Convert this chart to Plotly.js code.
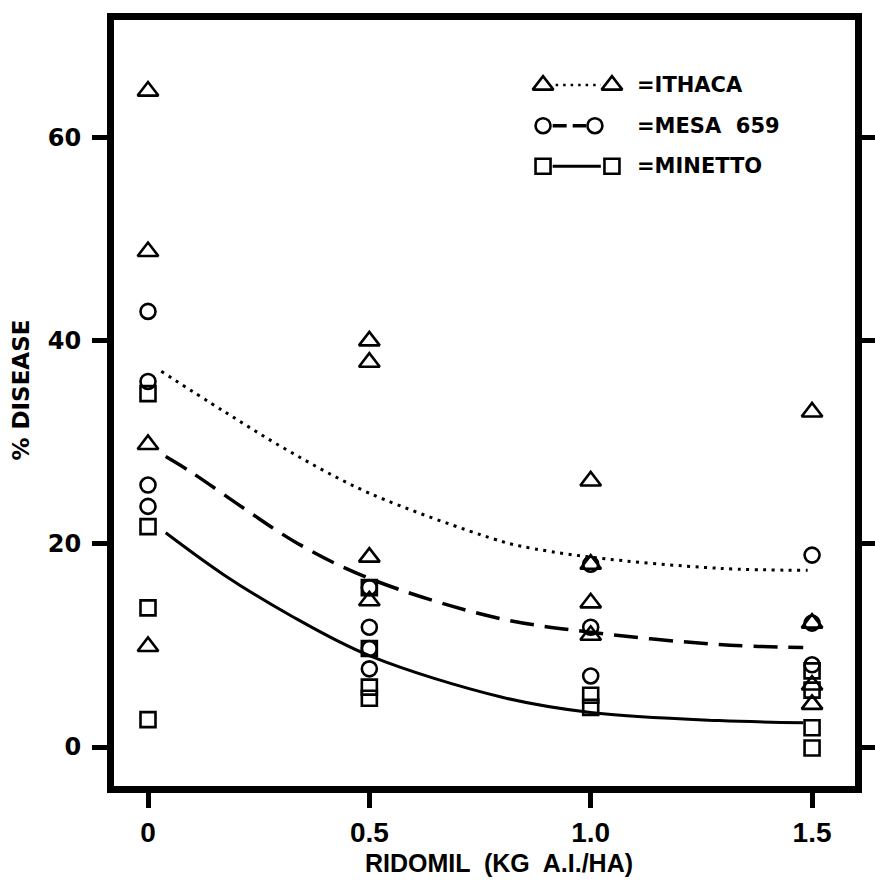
<!DOCTYPE html>
<html>
<head>
<meta charset="utf-8">
<script src="https://cdn.plot.ly/plotly-3.0.1.min.js"></script>
<style>
  html, body { margin: 0; padding: 0; background: #ffffff; }
  #chart { width: 875px; height: 883px; }
</style>
</head>
<body>
<div id="chart"></div>
<script>
// ---- data ----
const doseTicks = [0, 0.5, 1.0, 1.5];
const doseTickText = ['0', '0.5', '1.0', '1.5'];
const diseaseTicks = [0, 20, 40, 60];

const ithacaDose = [0, 0, 0, 0, 0.5, 0.5, 0.5, 0.5, 1, 1, 1, 1, 1.5, 1.5, 1.5, 1.5];
const ithacaDisease = [64.6, 48.8, 29.8, 9.9, 40.0, 37.9, 18.7, 14.4, 26.2, 18.0, 14.2, 11.0, 33.0, 12.2, 6.1, 4.2];

const mesaDose = [0, 0, 0, 0, 0.5, 0.5, 0.5, 0.5, 1, 1, 1, 1.5, 1.5, 1.5];
const mesaDisease = [42.9, 36.0, 25.8, 23.7, 15.7, 11.8, 9.7, 7.7, 18.0, 11.8, 7.0, 18.9, 12.2, 8.1];

const minettoDose = [0, 0, 0, 0, 0.5, 0.5, 0.5, 0.5, 1, 1, 1.5, 1.5, 1.5, 1.5];
const minettoDisease = [34.8, 21.7, 13.7, 2.7, 15.7, 9.7, 5.9, 4.8, 5.1, 3.9, 7.5, 5.6, 1.9, -0.1];

// fitted curves
const ithacaFitDose = [0.03, 0.17, 0.32, 0.5, 0.78, 0.84, 1.0, 1.29, 1.49];
const ithacaFitDisease = [37.0, 33.1, 29.1, 25.0, 20.5, 19.8, 18.7, 17.6, 17.4];

const mesaFitDose = [0.04, 0.10, 0.22, 0.34, 0.5, 0.78, 1.0, 1.29, 1.48];
const mesaFitDisease = [28.6, 27.0, 23.4, 20.0, 16.6, 12.8, 11.3, 10.1, 9.8];

const minettoFitDose = [0.04, 0.17, 0.32, 0.5, 0.80, 1.0, 1.29, 1.48];
const minettoFitDisease = [21.1, 17.0, 13.0, 9.0, 4.9, 3.4, 2.6, 2.4];

const seriesNames = ['=ITHACA', '=MESA  659', '=MINETTO'];

// ---- styling ----
const black = '#000000';
const mk = (symbol, size) => ({ symbol: symbol, size: size, color: black, line: { color: black, width: 2.6 } });
const triMk = mk('triangle-up-open', 18);
const cirMk = mk('circle-open', 15);
const sqrMk = mk('square-open', 15);
const dotLine = { color: black, width: 3, dash: '3px,5.5px', shape: 'spline' };
const dashLine = { color: black, width: 3.5, dash: '24px,11px', shape: 'spline' };
const solidLine = { color: black, width: 3, shape: 'spline' };

const traces = [
  { x: ithacaFitDose, y: ithacaFitDisease, mode: 'lines', line: dotLine, hoverinfo: 'skip' },
  { x: mesaFitDose, y: mesaFitDisease, mode: 'lines', line: dashLine, hoverinfo: 'skip' },
  { x: minettoFitDose, y: minettoFitDisease, mode: 'lines', line: solidLine, hoverinfo: 'skip' },
  { x: ithacaDose, y: ithacaDisease, mode: 'markers', marker: triMk, name: 'ITHACA' },
  { x: mesaDose, y: mesaDisease, mode: 'markers', marker: cirMk, name: 'MESA 659' },
  { x: minettoDose, y: minettoDisease, mode: 'markers', marker: sqrMk, name: 'MINETTO' }
];

// ---- hand-drawn style key, placed on an overlay axis spanning the plot (0..1) ----
const keyRows = [
  { y: 0.915, x0: 0.579, x1: 0.672, l0: 0.596, l1: 0.657, marker: triMk, line: { color: black, width: 2.5, dash: '2.5px,5px' } },
  { y: 0.862, x0: 0.579, x1: 0.649, l0: 0.592, l1: 0.637, marker: cirMk, line: { color: black, width: 3.5, dash: '14px,6px' } },
  { y: 0.809, x0: 0.579, x1: 0.672, l0: 0.592, l1: 0.657, marker: sqrMk, line: { color: black, width: 3 } }
];
keyRows.forEach(function (r) {
  traces.push({ x: [r.l0, r.l1], y: [r.y, r.y], xaxis: 'x2', yaxis: 'y2', mode: 'lines', line: r.line, hoverinfo: 'skip' });
  traces.push({ x: [r.x0, r.x1], y: [r.y, r.y], xaxis: 'x2', yaxis: 'y2', mode: 'markers', marker: r.marker, hoverinfo: 'skip' });
});

const keyAnnotations = keyRows.map(function (r, i) {
  return {
    xref: 'x2', yref: 'y2', x: 0.703, y: r.y, xanchor: 'left', yanchor: 'middle',
    text: seriesNames[i], showarrow: false,
    font: { family: 'DejaVu Sans, sans-serif', size: 21, weight: 700, color: black }
  };
});

const axisCommon = {
  showline: true, linecolor: black, linewidth: 7,
  ticks: 'outside', ticklen: 15, tickwidth: 5, tickcolor: black,
  showgrid: false, zeroline: false, fixedrange: true
};

const layout = {
  width: 875, height: 883,
  margin: { l: 114, r: 20, t: 20, b: 97, pad: 0 },
  paper_bgcolor: '#ffffff', plot_bgcolor: '#ffffff',
  showlegend: false,
  xaxis: Object.assign({}, axisCommon, {
    range: [-0.0768, 1.597], mirror: true,
    tickmode: 'array', tickvals: doseTicks, ticktext: doseTickText,
    ticklabelstandoff: 0,
    tickfont: { family: 'Liberation Sans Narrow, Liberation Sans, sans-serif', size: 28, weight: 700, color: black }
  }),
  yaxis: Object.assign({}, axisCommon, {
    range: [-3.84, 71.6], mirror: 'allticks',
    tickmode: 'array', tickvals: diseaseTicks,
    ticklabelstandoff: 6,
    tickfont: { family: 'DejaVu Sans, sans-serif', size: 24, weight: 700, color: black }
  }),
  xaxis2: { overlaying: 'x', range: [0, 1], visible: false, fixedrange: true },
  yaxis2: { overlaying: 'y', range: [0, 1], visible: false, fixedrange: true },
  annotations: keyAnnotations.concat([
    {
      xref: 'paper', yref: 'paper', x: 0.5196, y: -0.101, xanchor: 'center', yanchor: 'middle',
      text: 'RIDOMIL  (KG  A.I./HA)', showarrow: false,
      font: { family: 'Liberation Sans Narrow, Liberation Sans, sans-serif', size: 25, weight: 700, color: black }
    },
    {
      xref: 'paper', yref: 'paper', x: -0.126, y: 0.517, xanchor: 'center', yanchor: 'middle',
      text: '% DISEASE', textangle: -90, showarrow: false,
      font: { family: 'DejaVu Sans, sans-serif', size: 23, weight: 700, color: black }
    }
  ])
};

Plotly.newPlot('chart', traces, layout, { staticPlot: true, displayModeBar: false });
</script>
</body>
</html>
